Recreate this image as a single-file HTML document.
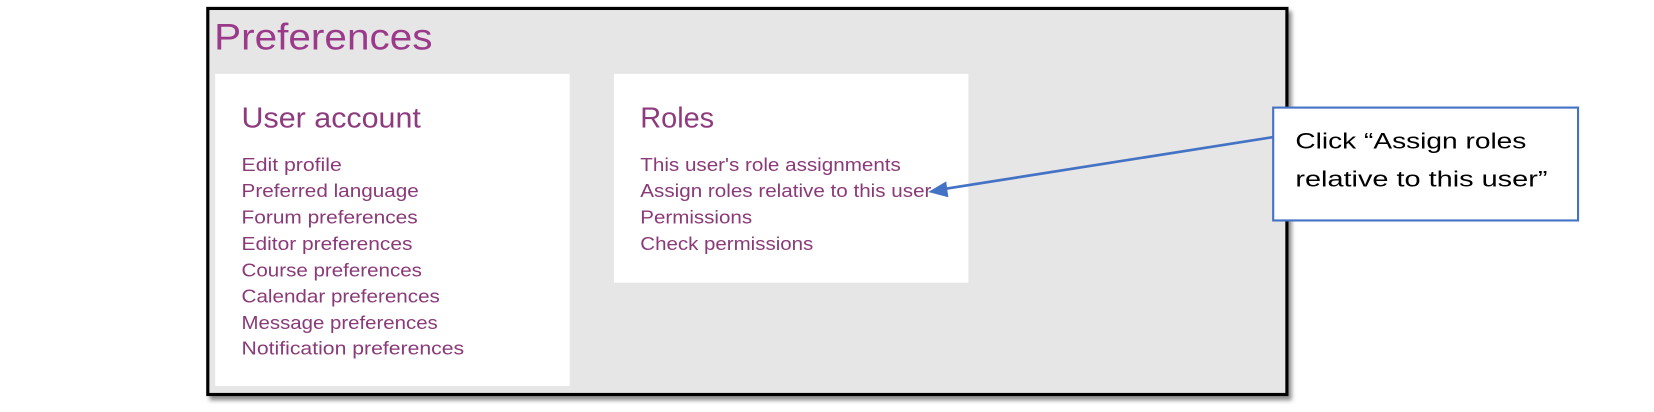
<!DOCTYPE html>
<html><head><meta charset="utf-8"><style>
html,body{margin:0;padding:0;background:#fff;}
svg{display:block;}
text{font-family:"Liberation Sans",sans-serif;}
.l{fill:#8a3a78;font-size:17.5px;}
</style></head><body>
<svg width="1654" height="412" viewBox="0 0 1568 390.6" preserveAspectRatio="none">
<defs><filter id="sh" x="-5%" y="-5%" width="110%" height="115%"><feDropShadow dx="3" dy="4" stdDeviation="2" flood-color="#000" flood-opacity="0.45"/></filter></defs>
<rect x="197" y="8" width="1023" height="366" fill="#e6e6e6" stroke="#000" stroke-width="3" filter="url(#sh)"/>
<g lengthAdjust="spacingAndGlyphs">
<text x="203" y="47" fill="#9b3a8a" font-size="35" textLength="207" lengthAdjust="spacingAndGlyphs">Preferences</text>
<rect x="204" y="70" width="336" height="296" fill="#fff"/>
<rect x="582" y="70" width="336" height="198" fill="#fff"/>
<text x="229" y="121" fill="#8d3a7e" font-size="27" textLength="170" lengthAdjust="spacingAndGlyphs">User account</text>
<text x="607" y="121" fill="#8d3a7e" font-size="27" textLength="70" lengthAdjust="spacingAndGlyphs">Roles</text>
<text class="l" x="229" y="162" textLength="95" lengthAdjust="spacingAndGlyphs">Edit profile</text>
<text class="l" x="229" y="187" textLength="168" lengthAdjust="spacingAndGlyphs">Preferred language</text>
<text class="l" x="229" y="212" textLength="167" lengthAdjust="spacingAndGlyphs">Forum preferences</text>
<text class="l" x="229" y="237" textLength="162" lengthAdjust="spacingAndGlyphs">Editor preferences</text>
<text class="l" x="229" y="262" textLength="171" lengthAdjust="spacingAndGlyphs">Course preferences</text>
<text class="l" x="229" y="287" textLength="188" lengthAdjust="spacingAndGlyphs">Calendar preferences</text>
<text class="l" x="229" y="312" textLength="186" lengthAdjust="spacingAndGlyphs">Message preferences</text>
<text class="l" x="229" y="336" textLength="211" lengthAdjust="spacingAndGlyphs">Notification preferences</text>
<text class="l" x="607" y="162" textLength="247" lengthAdjust="spacingAndGlyphs">This user's role assignments</text>
<text class="l" x="607" y="187" textLength="276" lengthAdjust="spacingAndGlyphs">Assign roles relative to this user</text>
<text class="l" x="607" y="212" textLength="106" lengthAdjust="spacingAndGlyphs">Permissions</text>
<text class="l" x="607" y="237" textLength="164" lengthAdjust="spacingAndGlyphs">Check permissions</text>
</g>
<line x1="1207" y1="130" x2="896" y2="179" stroke="#4472c4" stroke-width="2.5"/>
<polygon points="880,182 897,172 899,187" fill="#4472c4"/>
<rect x="1207" y="102" width="289" height="107" fill="#fff" stroke="#4472c4" stroke-width="2"/>
<text x="1228" y="141" fill="#000" font-size="21" textLength="219" lengthAdjust="spacingAndGlyphs">Click “Assign roles</text>
<text x="1228" y="177" fill="#000" font-size="21" textLength="239" lengthAdjust="spacingAndGlyphs">relative to this user”</text>
</svg>
</body></html>
